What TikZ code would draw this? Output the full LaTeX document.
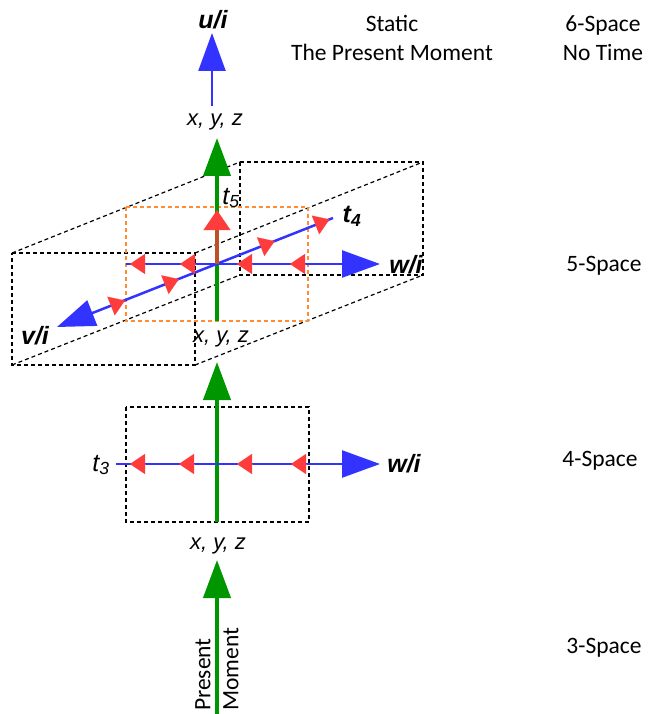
\documentclass[tikz,border=0pt]{standalone}
\usepackage{fontspec}
\setmainfont{Carlito}
\newfontfamily\labelfont{Liberation Sans}
\usetikzlibrary{arrows.meta,calc}
\definecolor{grn}{RGB}{0,150,0}
\definecolor{blu}{RGB}{51,51,255}
\definecolor{rd}{RGB}{255,60,60}
\definecolor{brn}{RGB}{190,80,40}
\definecolor{org}{RGB}{255,140,50}
\newcommand{\capfont}{\fontsize{23.5}{29}\selectfont}

\begin{document}
\begin{tikzpicture}[x=1pt, y=-1pt,
  greenaxis/.style={draw=grn, line width=4pt, -{Triangle[length=38pt,width=27pt]}},
  blueaxis/.style={draw=blu, line width=2.5pt, -{Triangle[length=38pt,width=27pt]}},
  flow/.style={draw=rd, line width=0.1pt, -{Triangle[length=15pt,width=20pt,color=rd]}},
  wire/.style={draw, dash pattern=on 4pt off 3pt, line width=1.2pt},
  orangewire/.style={draw=org, dash pattern=on 4pt off 3pt, line width=1.2pt},
  axlabel/.style={font=\labelfont\itshape\fontsize{22}{25}\selectfont, inner sep=0pt},
  tlabel/.style={font=\labelfont\itshape\fontsize{25}{28}\selectfont, inner sep=0pt},
  boldlabel/.style={font=\labelfont\bfseries\itshape\fontsize{25}{28}\selectfont, inner sep=0pt},
  spacelabel/.style={font=\capfont, align=center, inner sep=0pt}]
\useasboundingbox (0,0) rectangle (650,714);

% 6-space
\coordinate (o6) at (212,106);
\coordinate (utip) at (212,33);
\draw[blueaxis] (o6) -- (utip);
\node[boldlabel] (ui) at (213,20) {u/i};
\node[axlabel] (xyz6) at (215,122) {x, y, z};
\node[spacelabel] (static) at (392,38) {Static\\The Present Moment};
\node[spacelabel] (six) at (603,38) {6-Space\\No Time};

% 5-space: box in depth
\coordinate (f1) at (12,253);  \coordinate (f2) at (195,253);
\coordinate (f3) at (195,365); \coordinate (f4) at (12,365);
\coordinate (b1) at (240,162); \coordinate (b2) at (423,162);
\coordinate (b3) at (423,275); \coordinate (b4) at (240,275);
\draw[wire] (f1) -- (f2) -- (f3) -- (f4) -- cycle;
\draw[wire] (b1) -- (b2) -- (b3) -- (b4) -- cycle;
\foreach \i in {1,...,4}
  \draw[wire] (f\i) -- (b\i);
\draw[orangewire] (126,207) rectangle (308,321);

\coordinate (o5) at (217,264);
\coordinate (g5) at (217,321);
\coordinate (g5tip) at (217,138);
\coordinate (w5a) at (126,264);
\coordinate (w5tip) at (380,264);
\coordinate (vtip) at (57,327);
\coordinate (t4end) at (333,218);
\coordinate (t5tip) at (217,210);
\draw[greenaxis] (g5) -- (g5tip);
\draw[blueaxis] (w5a) -- (w5tip);
\draw[blueaxis] (t4end) -- (vtip);
\draw[draw=brn, line width=4pt, -{Triangle[length=20pt,width=26pt,color=rd]}] (o5) -- (t5tip);
\foreach \p in {130,180,237,290}
  \draw[flow] (\p+15,264) -- (\p,264);
\foreach \a/\b in {-114/-99,-56/-41,47/62,106/121}
  \draw[flow] ($(o5)!\a pt!(t4end)$) -- ($(o5)!\b pt!(t4end)$);
\node[tlabel] (t5) at (231,198) {t\textsubscript{5}};
\node[boldlabel] (t4) at (352,216) {t\textsubscript{4}};
\node[boldlabel] (w5) at (406,265) {w/i};
\node[boldlabel] (vi) at (35,336) {v/i};
\node[axlabel] (xyz5) at (221,339) {x, y, z};
\node[spacelabel] (five) at (604,266) {5-Space};

% 4-space
\draw[wire] (126,407) rectangle (309,522);
\coordinate (g4) at (217,522);
\coordinate (g4tip) at (217,362);
\coordinate (w4a) at (116,464);
\coordinate (w4tip) at (380,464);
\draw[greenaxis] (g4) -- (g4tip);
\draw[blueaxis] (w4a) -- (w4tip);
\foreach \p in {130,179,237,291}
  \draw[flow] (\p+15,464) -- (\p,464);
\node[tlabel] (t3) at (101,465) {t\textsubscript{3}};
\node[boldlabel] (w4) at (404,464) {w/i};
\node[axlabel] (xyz4) at (218,546) {x, y, z};
\node[spacelabel] (four) at (600,461) {4-Space};

% 3-space
\coordinate (g3) at (217,714);
\coordinate (g3tip) at (217,560);
\draw[greenaxis] (g3) -- (g3tip);
\node[spacelabel, rotate=90, anchor=west] (present) at (203,711) {Present};
\node[spacelabel, rotate=90, anchor=west] (moment) at (231,711) {Moment};
\node[spacelabel] (three) at (604,648) {3-Space};
\end{tikzpicture}
\end{document}
